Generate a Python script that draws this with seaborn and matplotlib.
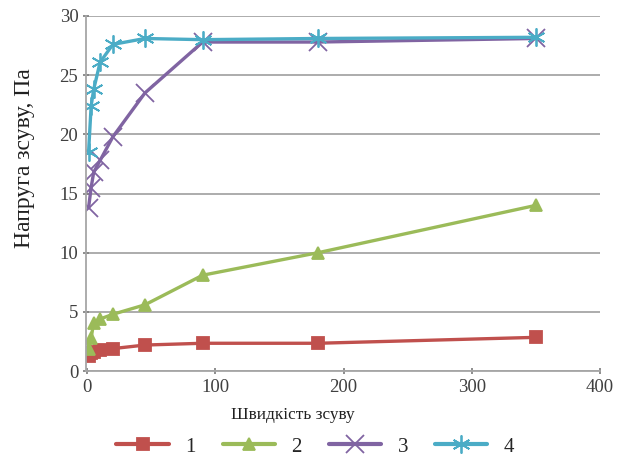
import matplotlib
matplotlib.use("Agg")
import matplotlib.pyplot as plt
import seaborn as sns
import pandas as pd

# Shear rate values shared by every sample
shear_rate = [1, 3, 5, 10, 20, 45, 90, 180, 350]

# Shear stress, Pa, for each sample
stress_1 = [1.3, 1.5, 1.6, 1.8, 1.9, 2.2, 2.35, 2.35, 2.85]
stress_2 = [1.9, 2.8, 4.1, 4.4, 4.8, 5.6, 8.1, 10.0, 14.0]
stress_3 = [13.8, 15.5, 16.8, 17.8, 19.8, 23.5, 27.8, 27.8, 28.1]
stress_4 = [18.5, 22.4, 23.8, 26.1, 27.6, 28.1, 28.0, 28.1, 28.2]

series_names = ["1", "2", "3", "4"]
colors = ["#C0504D", "#9BBB59", "#8064A2", "#4BACC6"]
markers = ["s", "^", "x", (6, 2, 0)]

x_ticks = [0, 100, 200, 300, 400]
y_ticks = [0, 5, 10, 15, 20, 25, 30]

sns.set_theme(style="white")
plt.rcParams["font.family"] = ["Liberation Serif", "DejaVu Serif"]

fig = plt.figure(figsize=(6.21, 4.57), dpi=100)
ax = fig.add_axes([0.1385, 0.188, 0.8275, 0.777])

handles = []
for name, values, c, m in zip(series_names,
                              [stress_1, stress_2, stress_3, stress_4],
                              colors, markers):
    df = pd.DataFrame({"rate": shear_rate, "stress": values})
    filled = m in ("s", "^")
    ms = 9 if filled else 13
    sns.lineplot(data=df, x="rate", y="stress", color=c, marker=m,
                 markersize=ms, markeredgewidth=1.3, markeredgecolor=c,
                 markerfacecolor=c, linewidth=2.4, ax=ax, sort=False,
                 estimator=None)
    handles.append(plt.Line2D([], [], color=c, marker=m, linewidth=3,
                              markersize=ms, markerfacecolor=c,
                              markeredgecolor=c, markeredgewidth=1.3))

ax.set_xlim(-1, 400)
ax.set_ylim(0, 30)
ax.set_xticks(x_ticks)
ax.set_yticks(y_ticks)
ax.yaxis.grid(True, color="#A6A6A6", linewidth=1.3)
ax.xaxis.grid(False)
for side in ["top", "right"]:
    ax.spines[side].set_visible(False)
for side in ["left", "bottom"]:
    ax.spines[side].set_color("#A6A6A6")
    ax.spines[side].set_linewidth(1.3)
ax.tick_params(axis="both", which="both", direction="inout", length=5,
               color="#808080", labelsize=13.5, labelcolor="#404040",
               bottom=True, left=True)
ax.tick_params(axis="y", pad=3)
ax.tick_params(axis="x", pad=3)

ax.set_xlabel("Швидкість зсуву", fontsize=12.4, color="#202020")
ax.xaxis.set_label_coords(0.403, -0.1)
ax.set_ylabel("Напруга зсуву, Па", fontsize=17, color="#202020")
ax.yaxis.set_label_coords(-0.1, 0.6)

fig.legend(handles, series_names, loc="center", ncol=4,
           bbox_to_anchor=(0.508, 0.022), frameon=False, fontsize=15,
           handlelength=2.5, columnspacing=1.3, handletextpad=0.8)

fig.savefig("out.png", dpi=100)
